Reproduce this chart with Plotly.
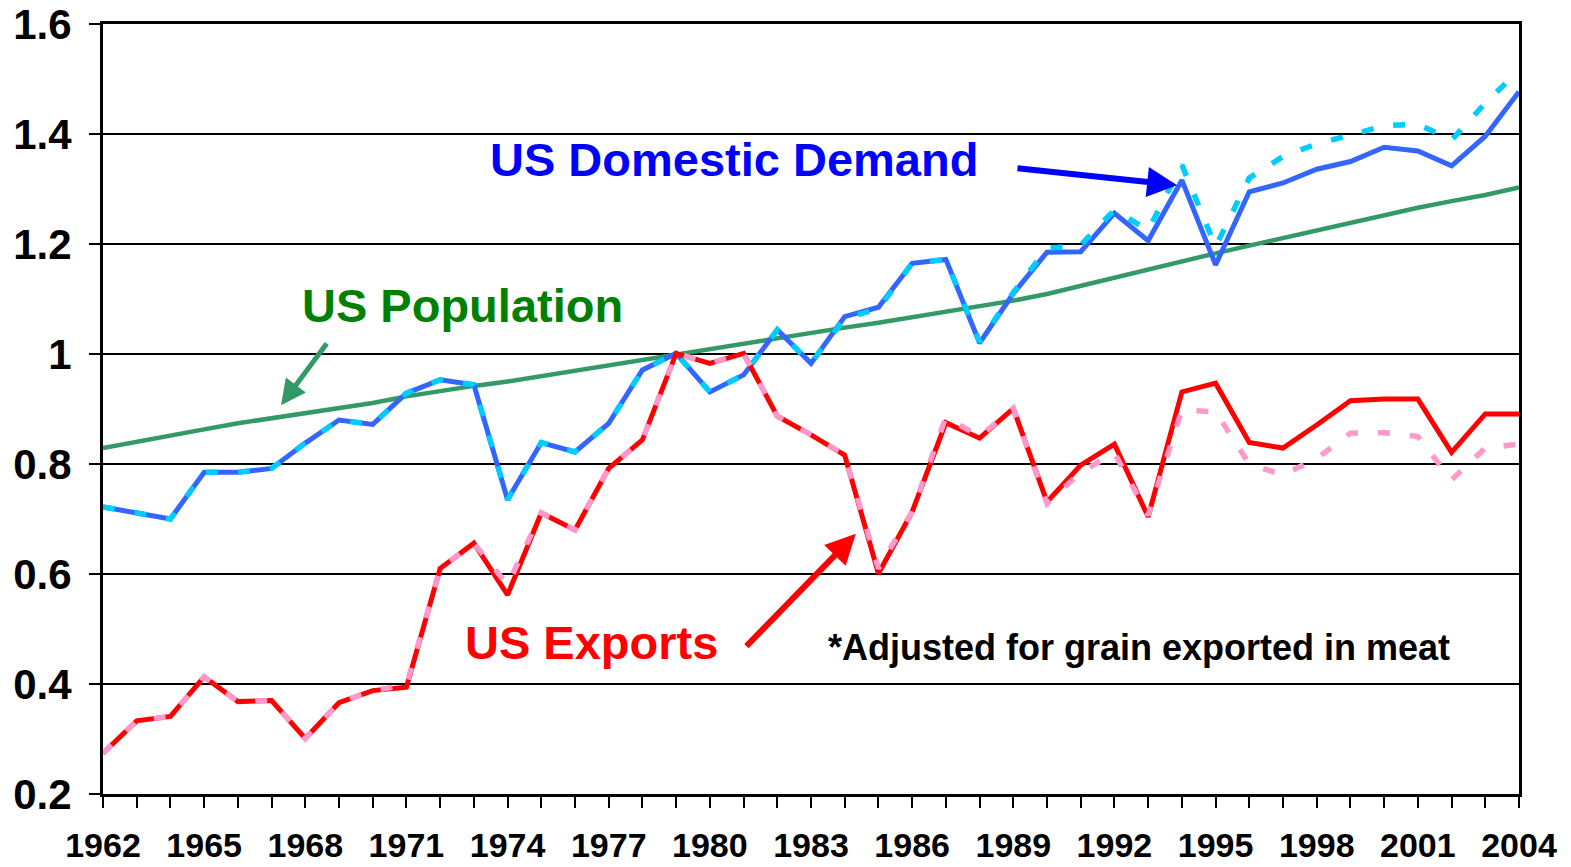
import plotly.graph_objects as go

years = list(range(1962, 2005))

population = [0.829, 0.841, 0.853, 0.863, 0.874, 0.883, 0.892, 0.901, 0.911, 0.923,
              0.933, 0.942, 0.950, 0.960, 0.969, 0.979, 0.989, 1.000, 1.010, 1.020,
              1.030, 1.039, 1.048, 1.057, 1.067, 1.077, 1.086, 1.097, 1.109, 1.124,
              1.140, 1.155, 1.169, 1.183, 1.197, 1.211, 1.226, 1.240, 1.254, 1.266,
              1.278, 1.289, 1.303]

domestic = [0.722, 0.712, 0.700, 0.785, 0.785, 0.792, 0.838, 0.880, 0.872, 0.929,
            0.953, 0.944, 0.735, 0.839, 0.822, 0.874, 0.971, 1.001, 0.931, 0.962,
            1.044, 0.983, 1.068, 1.085, 1.165, 1.172, 1.020, 1.110, 1.185, 1.186,
            1.256, 1.206, 1.316, 1.162, 1.295, 1.311, 1.336, 1.350, 1.376, 1.369,
            1.342, 1.396, 1.477]

domestic_adj = [0.722, 0.712, 0.700, 0.785, 0.785, 0.792, 0.838, 0.880, 0.872, 0.929,
                0.953, 0.944, 0.735, 0.839, 0.822, 0.874, 0.971, 1.001, 0.931, 0.962,
                1.044, 0.983, 1.065, 1.082, 1.165, 1.172, 1.022, 1.112, 1.192, 1.198,
                1.262, 1.225, 1.344, 1.195, 1.320, 1.359, 1.382, 1.398, 1.415, 1.418,
                1.389, 1.456, 1.516]

exports = [0.274, 0.333, 0.341, 0.413, 0.368, 0.370, 0.301, 0.366, 0.388, 0.394,
           0.610, 0.656, 0.562, 0.711, 0.680, 0.792, 0.844, 1.001, 0.983, 1.001,
           0.887, 0.853, 0.816, 0.601, 0.713, 0.875, 0.847, 0.901, 0.731, 0.798,
           0.836, 0.704, 0.931, 0.947, 0.839, 0.829, 0.871, 0.915, 0.918, 0.918,
           0.821, 0.891, 0.891]

exports_adj = [0.274, 0.333, 0.341, 0.413, 0.368, 0.370, 0.301, 0.366, 0.388, 0.398,
               0.610, 0.656, 0.580, 0.711, 0.680, 0.792, 0.844, 1.001, 0.983, 1.001,
               0.887, 0.853, 0.816, 0.610, 0.713, 0.885, 0.850, 0.901, 0.728, 0.785,
               0.820, 0.707, 0.898, 0.895, 0.800, 0.780, 0.810, 0.856, 0.857, 0.850,
               0.771, 0.829, 0.836]

tick_labels_x = [str(y) for y in range(1962, 2005, 3)]
tick_vals_y = [0.2, 0.4, 0.6, 0.8, 1.0, 1.2, 1.4, 1.6]
tick_text_y = ["0.2", "0.4", "0.6", "0.8", "1", "1.2", "1.4", "1.6"]

FONT = "Liberation Sans, Arial, sans-serif"
DASH = "12px,20px"

fig = go.Figure()
fig.add_trace(go.Scatter(x=years, y=population, mode="lines",
                         line=dict(color="#339966", width=4.5)))
fig.add_trace(go.Scatter(x=years, y=domestic, mode="lines",
                         line=dict(color="#3366FF", width=5)))
fig.add_trace(go.Scatter(x=years, y=domestic_adj, mode="lines",
                         line=dict(color="#00CCFF", width=5.5, dash=DASH)))
fig.add_trace(go.Scatter(x=years, y=exports, mode="lines",
                         line=dict(color="#FF0000", width=5)))
fig.add_trace(go.Scatter(x=years, y=exports_adj, mode="lines",
                         line=dict(color="#FF99CC", width=5.5, dash=DASH)))

annotations = [
    dict(x=1973.42, y=1.353, text="<b>US Domestic Demand</b>", showarrow=False,
         xanchor="left", yanchor="middle", font=dict(family=FONT, size=47, color="#0000FF")),
    dict(x=1967.84, y=1.089, text="<b>US Population</b>", showarrow=False,
         xanchor="left", yanchor="middle", font=dict(family=FONT, size=47, color="#008000")),
    dict(x=1972.68, y=0.476, text="<b>US Exports</b>", showarrow=False,
         xanchor="left", yanchor="middle", font=dict(family=FONT, size=47, color="#FF0000")),
    dict(x=1983.45, y=0.466, text="<b>*Adjusted for grain exported in meat</b>", showarrow=False,
         xanchor="left", yanchor="middle", font=dict(family=FONT, size=36, color="#000000")),
    dict(x=1993.86, y=1.307, ax=1989.08, ay=1.338, xref="x", yref="y", axref="x", ayref="y",
         text="", showarrow=True, arrowhead=2, arrowsize=1, arrowwidth=6, arrowcolor="#0000FF",
         standoff=0),
    dict(x=1967.28, y=0.907, ax=1968.67, ay=1.022, xref="x", yref="y", axref="x", ayref="y",
         text="", showarrow=True, arrowhead=2, arrowsize=1, arrowwidth=5, arrowcolor="#339966",
         standoff=0),
    dict(x=1984.33, y=0.673, ax=1981.04, ay=0.466, xref="x", yref="y", axref="x", ayref="y",
         text="", showarrow=True, arrowhead=2, arrowsize=1, arrowwidth=6, arrowcolor="#FF0000",
         standoff=0),
]

# page body has an 8px margin; size the figure so the plot area lands where the reference has it
fig.update_layout(
    width=1563, height=859,
    margin=dict(l=95, r=52, t=16, b=73),
    paper_bgcolor="white", plot_bgcolor="white",
    showlegend=False,
    annotations=annotations,
    font=dict(family=FONT, color="black"),
)

fig.update_xaxes(
    range=[1962, 2004], automargin=False, ticklabeloverflow="allow",
    tickmode="array", tickvals=list(range(1962, 2005, 3)), ticktext=[f"<b>{t}</b>" for t in tick_labels_x],
    ticks="outside", ticklen=11, tickwidth=2, tickcolor="black",
    minor=dict(dtick=1, tick0=1962, ticks="outside", ticklen=11, tickwidth=2, tickcolor="black", showgrid=False),
    showline=True, linewidth=3, linecolor="black", mirror=True,
    showgrid=False, zeroline=False,
    tickfont=dict(family=FONT, size=34, color="black"),
    ticklabelstandoff=8,
)
fig.update_yaxes(
    range=[0.2, 1.6], automargin=False, ticklabeloverflow="allow",
    tickmode="array", tickvals=tick_vals_y, ticktext=[f"<b>{t}</b>" for t in tick_text_y],
    ticks="outside", ticklen=11, tickwidth=2, tickcolor="black",
    showline=True, linewidth=3, linecolor="black", mirror=True,
    showgrid=True, gridcolor="black", gridwidth=2, zeroline=False,
    tickfont=dict(family=FONT, size=42, color="black"),
    ticklabelstandoff=9,
)

fig.write_html("out.html")
